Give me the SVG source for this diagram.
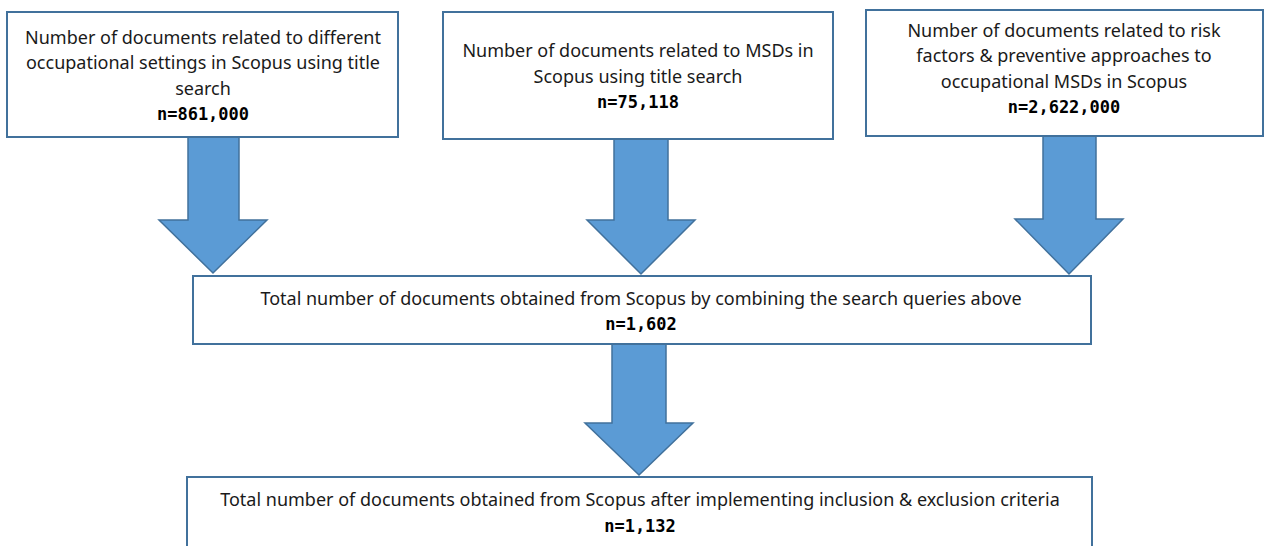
<svg xmlns="http://www.w3.org/2000/svg" width="1264" height="546" viewBox="0 0 1264 546">
<style>
.box{fill:#fff;stroke:#41719c;stroke-width:2}
.arr{fill:#5b9bd5;stroke:#41719c;stroke-width:1.5}
.t{font-family:"Noto Sans","Open Sans",sans-serif;font-size:18px;fill:#1a1a1a;text-anchor:middle}
.b{font-family:"DejaVu Sans Mono","Liberation Mono",monospace;font-size:17px;font-weight:bold;fill:#000;text-anchor:middle}
</style>
<rect width="1264" height="546" fill="#fff"/>
<g id="connectors">
<polygon class="arr" points="188,137 239,137 239,220 267,220 213,273 159,220 188,220"/>
<polygon class="arr" points="614,139 668,139 668,220 695,220 641,274 587,220 614,220"/>
<polygon class="arr" points="1043,136 1096,136 1096,219 1123,219 1069,274 1015,219 1043,219"/>
<polygon class="arr" points="612,344 666,344 666,423 693,423 639,475 585,423 612,423"/>
</g>
<g id="node1">
<rect class="box" x="7" y="12" width="391" height="125"/>
<text class="t" x="203" y="44">Number of documents related to different</text>
<text class="t" x="203" y="69">occupational settings in Scopus using title</text>
<text class="t" x="203" y="95">search</text>
<text class="b" x="203" y="120">n=861,000</text>
</g>
<g id="node2">
<rect class="box" x="443" y="12" width="390" height="127"/>
<text class="t" x="638" y="57">Number of documents related to MSDs in</text>
<text class="t" x="638" y="83">Scopus using title search</text>
<text class="b" x="638" y="108">n=75,118</text>
</g>
<g id="node3">
<rect class="box" x="866" y="10" width="397" height="126"/>
<text class="t" x="1064" y="37">Number of documents related to risk</text>
<text class="t" x="1064" y="62">factors &amp; preventive approaches to</text>
<text class="t" x="1064" y="88">occupational MSDs in Scopus</text>
<text class="b" x="1064" y="113">n=2,622,000</text>
</g>
<g id="node4">
<rect class="box" x="193" y="276" width="898" height="68"/>
<text class="t" x="641" y="305">Total number of documents obtained from Scopus by combining the search queries above</text>
<text class="b" x="641" y="330">n=1,602</text>
</g>
<g id="node5">
<rect class="box" x="187" y="477" width="905" height="80"/>
<text class="t" x="640" y="506">Total number of documents obtained from Scopus after implementing inclusion &amp; exclusion criteria</text>
<text class="b" x="640" y="532">n=1,132</text>
</g>
</svg>
